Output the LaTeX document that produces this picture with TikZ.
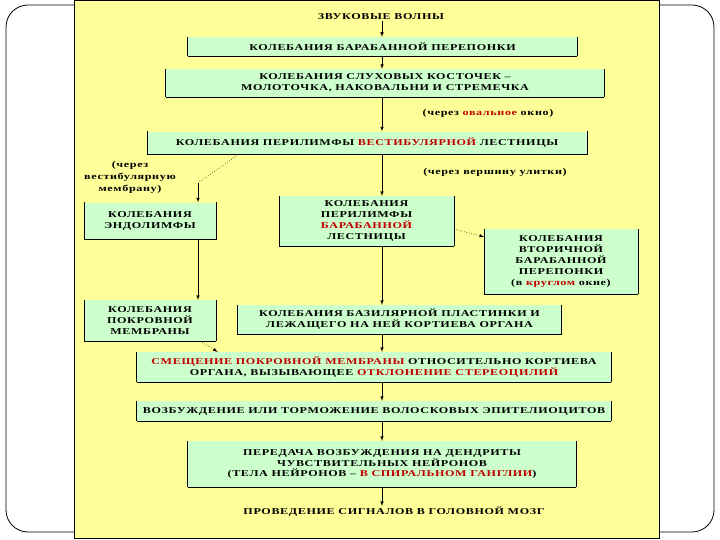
\documentclass[tikz,border=0pt]{standalone}
\usepackage{fontspec}
\setmainfont{Liberation Serif}[FakeStretch=1.35,LetterSpace=7]
\definecolor{panel}{HTML}{FFFF99}
\definecolor{boxgreen}{HTML}{CCFFCC}
\definecolor{hred}{HTML}{C00000}
\newcommand{\hr}[1]{\textcolor{hred}{#1}}
\tikzset{
  box/.style={fill=boxgreen, inner sep=0pt, align=center,
    font=\fontsize{9}{10.8}\selectfont\bfseries,
    append after command={
      (\tikzlastnode.north west) edge (\tikzlastnode.south west)
      (\tikzlastnode.south west) edge (\tikzlastnode.south east)
      (\tikzlastnode.south east) edge (\tikzlastnode.north east)}},
  note/.style={inner sep=1pt, align=center,
    font=\fontsize{9}{12}\selectfont\bfseries},
  arr/.style={-latex, semithick}
}
\begin{document}
\begin{tikzpicture}[x=1bp,y=-1bp]
        \useasboundingbox (0,0) rectangle (720,540);
        \fill[white] (0,0) rectangle (720,540);
        \draw[rounded corners=22bp, line width=0.8bp] (6,5) rectangle (714,532);
        \draw[fill=panel, line width=0.8bp] (74,0.5) rectangle (659,538);
        \coordinate (axis) at (382,0);
        \coordinate (k1) at (198,183);

        \node[note] (t0) at (381,17) {ЗВУКОВЫЕ ВОЛНЫ};
        \node[box, minimum width=391, minimum height=19] (b1) at (382.5,46.5) {КОЛЕБАНИЯ БАРАБАННОЙ ПЕРЕПОНКИ};
        \node[box, minimum width=440, minimum height=28] (b2) at (385,83) {КОЛЕБАНИЯ СЛУХОВЫХ КОСТОЧЕК –\\МОЛОТОЧКА, НАКОВАЛЬНИ И СТРЕМЕЧКА};
        \node[note] (n1) at (488,113) {(через \hr{овальное} окно)};
        \node[box, minimum width=441, minimum height=23] (b3) at (367,143) {КОЛЕБАНИЯ ПЕРИЛИМФЫ \hr{ВЕСТИБУЛЯРНОЙ} ЛЕСТНИЦЫ};
        \node[note] (n2) at (130,177) {(через\\вестибулярную\\мембрану)};
        \node[note] (n3) at (495,172) {(через вершину улитки)};
        \node[box, minimum width=132, minimum height=37] (b4) at (150,221) {КОЛЕБАНИЯ\\ЭНДОЛИМФЫ};
        \node[box, minimum width=175, minimum height=50] (b5) at (366.5,221) {КОЛЕБАНИЯ\\ПЕРИЛИМФЫ\\\hr{БАРАБАННОЙ}\\ЛЕСТНИЦЫ};
        \node[box, minimum width=154, minimum height=65] (b6) at (561,261.5) {КОЛЕБАНИЯ\\ВТОРИЧНОЙ\\БАРАБАННОЙ\\ПЕРЕПОНКИ\\(в \hr{круглом} окне)};
        \node[box, minimum width=132, minimum height=41] (b7) at (150,320.5) {КОЛЕБАНИЯ\\ПОКРОВНОЙ\\МЕМБРАНЫ};
        \node[box, minimum width=325, minimum height=29] (b8) at (399.5,319.5) {КОЛЕБАНИЯ БАЗИЛЯРНОЙ ПЛАСТИНКИ И\\ЛЕЖАЩЕГО НА НЕЙ КОРТИЕВА ОРГАНА};
        \node[box, minimum width=476, minimum height=30] (b9) at (374,367) {\hr{СМЕЩЕНИЕ ПОКРОВНОЙ МЕМБРАНЫ} ОТНОСИТЕЛЬНО КОРТИЕВА\\ОРГАНА, ВЫЗЫВАЮЩЕЕ \hr{ОТКЛОНЕНИЕ СТЕРЕОЦИЛИЙ}};
        \node[box, minimum width=476, minimum height=20] (b10) at (374,411) {ВОЗБУЖДЕНИЕ ИЛИ ТОРМОЖЕНИЕ ВОЛОСКОВЫХ ЭПИТЕЛИОЦИТОВ};
        \node[box, minimum width=390, minimum height=46] (b11) at (382,464) {ПЕРЕДАЧА ВОЗБУЖДЕНИЯ НА ДЕНДРИТЫ\\ЧУВСТВИТЕЛЬНЫХ НЕЙРОНОВ\\(ТЕЛА НЕЙРОНОВ – \hr{В СПИРАЛЬНОМ ГАНГЛИИ})};
        \node[note] (t12) at (394,512) {ПРОВЕДЕНИЕ СИГНАЛОВ В ГОЛОВНОЙ МОЗГ};

        \draw[arr] (t0.south -| axis) -- (b1.north -| axis);
        \draw[arr] (b1.south -| axis) -- (b2.north -| axis);
        \draw[arr] (b2.south -| axis) -- (b3.north -| axis);
        \draw[dotted, semithick] ([xshift=91bp]b3.south west) -- (k1);
        \draw[arr] (k1) -- (b4.north -| k1);
        \draw[arr] (b3.south -| axis) -- (b5.north -| axis);
        \draw[arr, dotted] ([yshift=-8bp]b5.east) -- ([yshift=-8bp]b6.north west);
        \draw[arr] (b4.south -| k1) -- (b7.north -| k1);
        \draw[arr] (b5.south -| axis) -- (b8.north -| axis);
        \draw[arr, dotted] ([xshift=-16bp]b7.south east) -- ([xshift=81bp]b9.north west);
        \draw[arr] (b8.south -| axis) -- (b9.north -| axis);
        \draw[arr] (b9.south -| axis) -- (b10.north -| axis);
        \draw[arr] (b10.south -| axis) -- (b11.north -| axis);
        \draw[arr] (b11.south -| axis) -- (t12.north -| axis);
\end{tikzpicture}
\end{document}
